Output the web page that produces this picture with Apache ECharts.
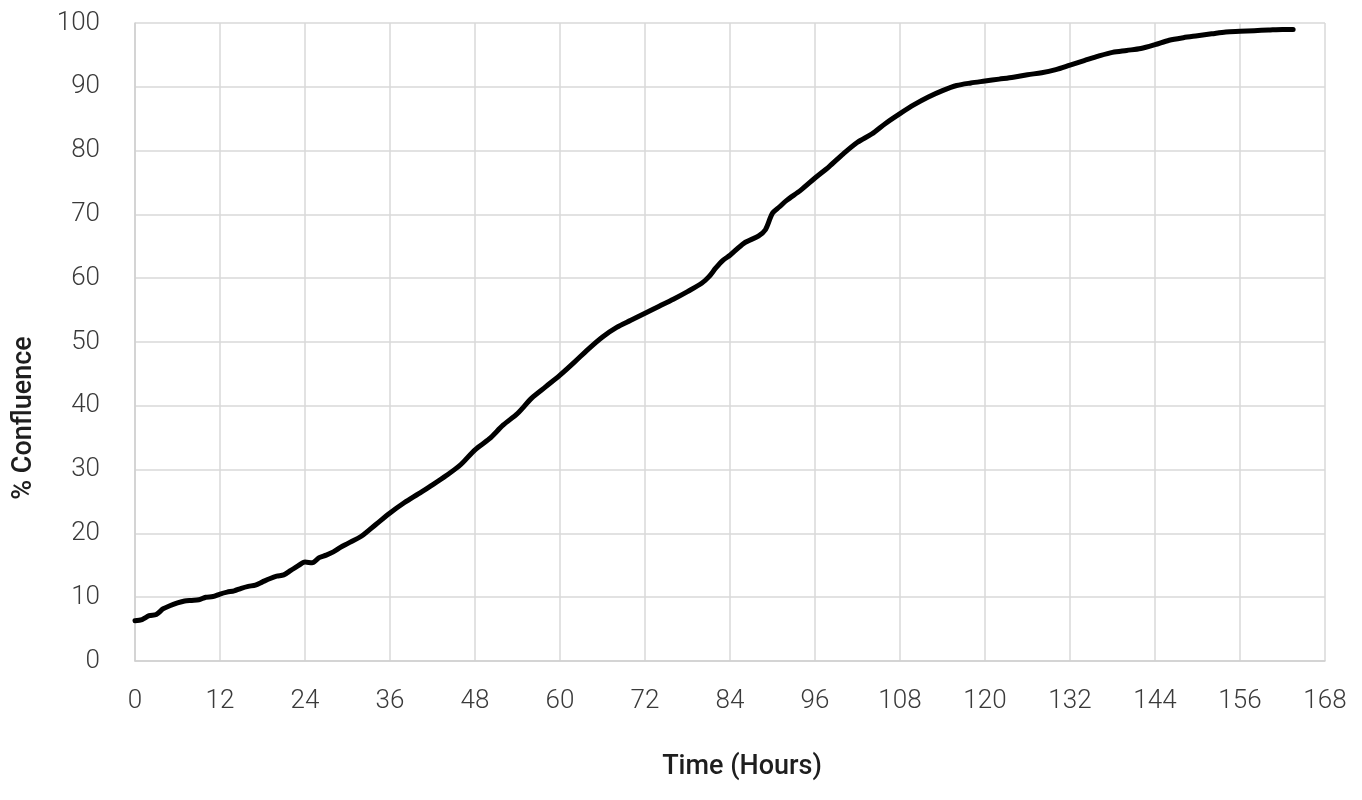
<!DOCTYPE html>
<html>
<head>
<meta charset="utf-8">
<script src="https://cdn.jsdelivr.net/npm/echarts@6/dist/echarts.min.js"></script>
<style>html,body{margin:0;padding:0;background:#fff;}#c{width:1362px;height:800px;}</style>
</head>
<body>
<div id="c"></div>
<script>
const hours = [0,1,2,3,4,5,6,7,8,9,10,11,12,13,14,15,16,17,18,19,20,21,22,23,24,25,26,27,28,29,30,32,34,36,38,40,42,44,46,48,50,52,54,56,58,60,62,64,66,68,70,72,74,76,78,80,81,82,83,84,86,88,89,90,91,92,94,96,98,100,102,104,106,108,110,112,114,116,118,120,122,124,126,128,130,132,134,136,138,140,142,144,146,148,150,152,154,156,158,160,162,163.5];
const confluence = [6.3,6.5,7.1,7.3,8.2,8.7,9.1,9.4,9.5,9.6,10.0,10.1,10.5,10.8,11.0,11.4,11.7,11.9,12.4,12.9,13.3,13.5,14.2,14.9,15.5,15.4,16.2,16.6,17.1,17.8,18.4,19.6,21.4,23.2,24.8,26.2,27.6,29.1,30.8,33.1,34.8,37.0,38.8,41.2,43.0,44.8,46.8,48.9,50.8,52.3,53.4,54.5,55.6,56.7,57.9,59.2,60.2,61.6,62.8,63.6,65.5,66.6,67.6,70.2,71.2,72.2,73.8,75.7,77.5,79.5,81.3,82.6,84.3,85.8,87.2,88.4,89.4,90.2,90.6,90.9,91.2,91.5,91.9,92.2,92.7,93.4,94.1,94.8,95.4,95.7,96.0,96.6,97.3,97.7,98.0,98.3,98.6,98.7,98.8,98.9,99.0,99.0];
const xTitle = 'Time (Hours)';
const yTitle = '% Confluence';

const chart = echarts.init(document.getElementById('c'), null, {renderer: 'canvas'});
const pts = hours.map((h, i) => [h, confluence[i]]);
const labelStyle = {fontFamily: 'Roboto', fontWeight: 300, fontSize: 26, color: '#3a3a3a'};
chart.setOption({
  animation: false,
  grid: {left: 135, right: 37, top: 23, bottom: 139, containLabel: false},
  xAxis: {
    type: 'value', min: 0, max: 168, interval: 12,
    axisLine: {show: true, lineStyle: {color: '#cfcfcf', width: 1.5}},
    axisTick: {show: false},
    axisLabel: Object.assign({margin: 27}, labelStyle),
    splitLine: {show: true, lineStyle: {color: '#d9d9d9', width: 1.5}}
  },
  yAxis: {
    type: 'value', min: 0, max: 100, interval: 10,
    axisLine: {show: true, lineStyle: {color: '#cfcfcf', width: 1.5}},
    axisTick: {show: false},
    axisLabel: Object.assign({margin: 35}, labelStyle),
    splitLine: {show: true, lineStyle: {color: '#d9d9d9', width: 1.5}}
  },
  graphic: [
    {type: 'text', x: 742, y: 767, style: {text: xTitle, fontFamily: 'Roboto', fontWeight: 500, fontSize: 27, fill: '#1e1e1e', align: 'center', verticalAlign: 'middle'}},
    {type: 'text', x: 24, y: 418, rotation: Math.PI / 2, style: {text: yTitle, fontFamily: 'Roboto', fontWeight: 500, fontSize: 27, fill: '#1e1e1e', align: 'center', verticalAlign: 'middle'}}
  ],
  series: [{
    type: 'line', data: pts, smooth: 0.3, showSymbol: false,
    lineStyle: {color: '#000', width: 5, cap: 'round', join: 'round'}
  }]
});
</script>
</body>
</html>
